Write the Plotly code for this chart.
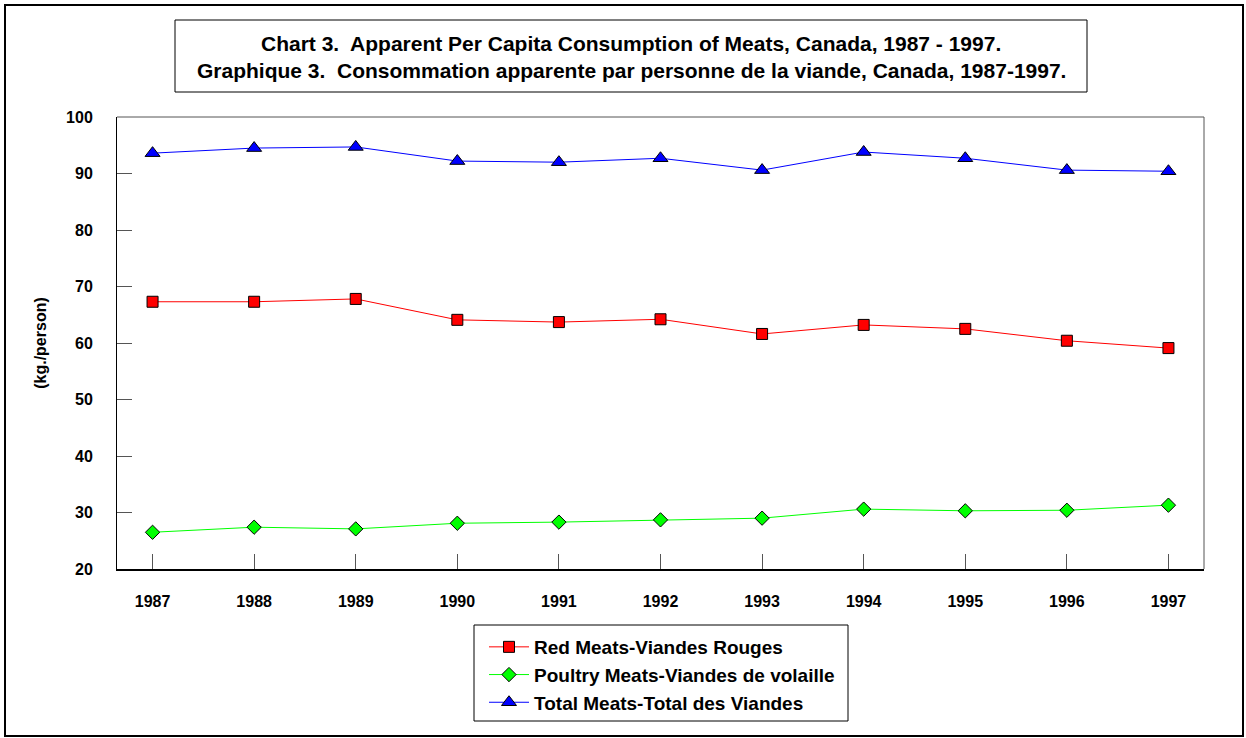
import plotly.graph_objects as go

years = [1987, 1988, 1989, 1990, 1991, 1992, 1993, 1994, 1995, 1996, 1997]
red_meats = [67.3, 67.3, 67.8, 64.1, 63.7, 64.2, 61.6, 63.2, 62.5, 60.4, 59.1]
poultry = [26.5, 27.4, 27.1, 28.1, 28.3, 28.7, 29.0, 30.6, 30.3, 30.4, 31.3]
total = [93.6, 94.5, 94.7, 92.2, 92.0, 92.7, 90.6, 93.8, 92.7, 90.6, 90.4]
y_ticks = [20, 30, 40, 50, 60, 70, 80, 90, 100]

names = ["Red Meats-Viandes Rouges", "Poultry Meats-Viandes de volaille", "Total Meats-Total des Viandes"]
title_lines = ["Chart 3.  Apparent Per Capita Consumption of Meats, Canada, 1987 - 1997.",
               "Graphique 3.  Consommation apparente par personne de la viande, Canada, 1987-1997."]
y_title = "(kg./person)"

FONT = "Liberation Sans, Arial, sans-serif"

fig = go.Figure()
fig.add_trace(go.Scatter(x=years, y=red_meats, name=names[0], mode="lines+markers",
                         line=dict(color="#FF0000", width=1),
                         marker=dict(symbol="square", size=11, color="#FF0000",
                                     line=dict(color="#000000", width=1)),
                         legendgroup="a"))
fig.add_trace(go.Scatter(x=years, y=poultry, name=names[1], mode="lines+markers",
                         line=dict(color="#00FF00", width=1),
                         marker=dict(symbol="diamond", size=11, color="#00FF00",
                                     line=dict(color="#000000", width=1)),
                         legendgroup="b"))
fig.add_trace(go.Scatter(x=years, y=total, name=names[2], mode="lines+markers",
                         line=dict(color="#0000FF", width=1),
                         marker=dict(symbol="triangle-up", size=13, color="#0000FF",
                                     line=dict(color="#000000", width=1)),
                         legendgroup="c"))

W, H = 1246, 738
L, R, T, B = 117, 42, 117, 169
pw, ph = W - L - R, H - T - B

def px(x):
    return (x - L) / pw

def py(y):
    return (H - B - y) / ph

shapes = [
    # outer frame
    dict(type="rect", xref="paper", yref="paper", x0=px(5), x1=px(1243), y0=py(736), y1=py(5),
         line=dict(color="#000000", width=2), fillcolor="rgba(0,0,0,0)", layer="below"),
    # title box
    dict(type="rect", xref="paper", yref="paper", x0=px(175), x1=px(1087), y0=py(92), y1=py(20),
         line=dict(color="#000000", width=1), fillcolor="white", layer="below"),
    # legend box
    dict(type="rect", xref="paper", yref="paper", x0=px(474), x1=px(848), y0=py(721), y1=py(625),
         line=dict(color="#000000", width=1), fillcolor="white", layer="below"),
]

annotations = [
    dict(text="<b>" + title_lines[0] + "</b>", xref="paper", yref="paper", x=px(631), y=py(44),
         xanchor="center", yanchor="middle", showarrow=False,
         font=dict(family=FONT, size=21, color="#000000")),
    dict(text="<b>" + title_lines[1] + "</b>", xref="paper", yref="paper", x=px(631), y=py(71),
         xanchor="center", yanchor="middle", showarrow=False,
         font=dict(family=FONT, size=21, color="#000000")),
]

fig.update_layout(
    width=W, height=H, autosize=False,
    margin=dict(l=L, r=R, t=T, b=B, pad=0),
    paper_bgcolor="white", plot_bgcolor="white",
    font=dict(family=FONT, size=16, color="#000000"),
    showlegend=True,
    legend=dict(x=px(484), y=py(628), xanchor="left", yanchor="top",
                bgcolor="rgba(0,0,0,0)", borderwidth=0,
                font=dict(family=FONT, size=19, color="#000000", weight="bold"),
                tracegroupgap=0, traceorder="grouped", itemwidth=40),
    shapes=shapes,
    annotations=annotations,
)

fig.update_xaxes(range=[1986.65, 1997.35], tickvals=years, ticktext=[str(y) for y in years],
                 ticks="inside", ticklen=15, tickcolor="#555555", tickwidth=1,
                 showline=True, linecolor="#000000", linewidth=2, mirror=False,
                 showgrid=False, zeroline=False, ticklabelstandoff=17,
                 tickfont=dict(family=FONT, size=16, weight="bold"))
fig.update_yaxes(range=[20, 100], tickvals=y_ticks,
                 ticks="inside", ticklen=15, tickcolor="#555555", tickwidth=1,
                 showline=True, linecolor="#000000", linewidth=1, mirror=False,
                 showgrid=False, zeroline=False, ticklabelstandoff=20,
                 tickfont=dict(family=FONT, size=16, weight="bold"),
                 title=dict(text="<b>" + y_title + "</b>", standoff=15,
                            font=dict(family=FONT, size=16)))

# top and right plot frame
fig.add_shape(type="line", xref="paper", yref="paper", x0=0, x1=1, y0=1, y1=1,
              line=dict(color="#555555", width=1))
fig.add_shape(type="line", xref="paper", yref="paper", x0=1, x1=1, y0=0, y1=1,
              line=dict(color="#555555", width=1))

fig.write_html("out.html", config={"displayModeBar": False},
               post_script="document.body.style.margin='0';document.body.style.overflow='hidden';")
